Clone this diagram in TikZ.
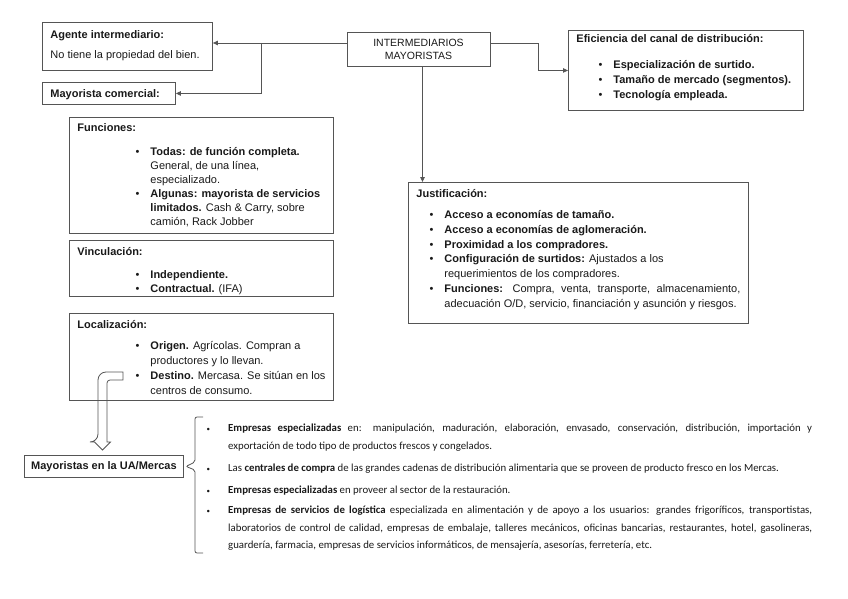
\documentclass[tikz,border=0pt]{standalone}
\usepackage{fontspec}
\setmainfont{Liberation Sans}
\newfontfamily\calibrifont{Carlito}
\usetikzlibrary{arrows.meta,positioning}
\definecolor{boxgray}{RGB}{85,85,85}
\definecolor{inkdark}{RGB}{25,25,25}

% box contents: width, height, top gap, title, body
\newcommand{\panelbox}[5]{\begin{minipage}[t][#2][t]{#1}\raggedright\vspace*{#3}\rule{0pt}{8pt}\smash{\textbf{#4}}#5\end{minipage}}
\newcommand{\bul}[2]{\par\leftskip=#1\relax\noindent\llap{\textbullet\hspace{11pt}}#2}
\newcommand{\listbul}{\leavevmode\llap{{\fontsize{7}{7}\selectfont\textbullet}\hspace{18pt}}}

\begin{document}
\begin{tikzpicture}[x=1pt, y=-1pt,
    panel/.style={draw=boxgray, line width=0.9pt, anchor=north west, inner xsep=8pt, inner ysep=0pt,
      text=inkdark, font=\fontsize{11}{14.5}\selectfont},
    arr/.style={-{Triangle[length=5pt, width=4.5pt]}, draw=boxgray, line width=0.8pt},
    bracket/.style={draw=boxgray, line width=0.8pt, rounded corners=2pt}
  ]
    \useasboundingbox (0,0) rectangle (848,599);

    % Top row
    \node[panel] (agente) at (42,22)
      {\panelbox{154pt}{48pt}{8pt}{Agente intermediario:}{\par\vspace{5.5pt}No tiene la propiedad del bien.}};
    \node[panel] (comercial) at (42,82)
      {\panelbox{117pt}{22pt}{7pt}{Mayorista comercial:}{}};
    \node[draw=boxgray, line width=0.9pt, minimum width=143pt, minimum height=34pt, align=center,
          text=inkdark, font=\fontsize{10.5}{13}\selectfont] (inter) at (418.5,49)
      {INTERMEDIARIOS\\MAYORISTAS};
    \node[panel] (efic) at (568,30)
      {\panelbox{219pt}{80pt}{4.5pt}{Eficiencia del canal de distribución:}{\setlength\baselineskip{15pt}\par\vspace{10.5pt}%
        \bul{37pt}{\textbf{Especialización de surtido.}}%
        \bul{37pt}{\textbf{Tamaño de mercado (segmentos).}}%
        \bul{37pt}{\textbf{Tecnología empleada.}}}};

    % Left column
    \node[panel] (func) at (69,117)
      {\panelbox{248pt}{116pt}{6pt}{Funciones:}{\setlength\baselineskip{14pt}\par\vspace{10pt}%
        \bul{73pt}{\textbf{Todas: de función completa.}\\General, de una línea,\\especializado.}%
        \bul{73pt}{\textbf{Algunas: mayorista de servicios}\\\textbf{limitados.} Cash \& Carry, sobre\\camión, Rack Jobber}}};
    \node[panel] (vinc) at (69,240)
      {\panelbox{248pt}{56pt}{7pt}{Vinculación:}{\setlength\baselineskip{14pt}\par\vspace{9pt}%
        \bul{73pt}{\textbf{Independiente.}}%
        \bul{73pt}{\textbf{Contractual.} (IFA)}}};
    \node[panel] (local) at (69,313)
      {\panelbox{248pt}{87pt}{7pt}{Localización:}{\setlength\baselineskip{15pt}\par\vspace{6pt}%
        \bul{73pt}{\textbf{Origen.} Agrícolas. Compran a\\productores y lo llevan.}%
        \bul{73pt}{\textbf{Destino.} Mercasa. Se sitúan en los\\centros de consumo.}}};

    % Right column
    \node[panel] (justif) at (408,182)
      {\panelbox{324pt}{141pt}{7pt}{Justificación:}{\setlength\baselineskip{14.8pt}\par\vspace{6.2pt}%
        \bul{28pt}{\textbf{Acceso a economías de tamaño.}}%
        \bul{28pt}{\textbf{Acceso a economías de aglomeración.}}%
        \bul{28pt}{\textbf{Proximidad a los compradores.}}%
        \bul{28pt}{\textbf{Configuración de surtidos:} Ajustados a los\\requerimientos de los compradores.}%
        \bul{28pt}{\makebox[296pt][s]{\textbf{Funciones:} Compra, venta, transporte, almacenamiento,}\\adecuación O/D, servicio, financiación y asunción y riesgos.}}};

    % Bottom
    \node[draw=boxgray, line width=0.9pt, anchor=north west, minimum width=159pt, minimum height=22pt,
          text=inkdark, font=\fontsize{11}{13}\selectfont\bfseries] (ua) at (24,455) {Mayoristas en la UA/Mercas};
    \node[anchor=base west, inner sep=0pt, text width=584pt, align=justify, text=inkdark,
          font=\calibrifont\fontsize{10.8}{17.5}\selectfont] (lista) at (228,431.5)
      {\listbul\textbf{Empresas especializadas} en: manipulación, maduración, elaboración, envasado, conservación, distribución, importación y\linebreak exportación de todo tipo de productos frescos y congelados.\par\vspace{4.5pt}
       \listbul Las \textbf{centrales de compra} de las grandes cadenas de distribución alimentaria que se proveen de producto fresco en los Mercas.\par\vspace{4.5pt}
       \listbul\textbf{Empresas especializadas} en proveer al sector de la restauración.\par\vspace{3pt}
       \listbul\textbf{Empresas de servicios de logística} especializada en alimentación y de apoyo a los usuarios: grandes frigoríficos, transportistas,\linebreak laboratorios de control de calidad, empresas de embalaje, talleres mecánicos, oficinas bancarias, restaurantes, hotel, gasolineras,\linebreak guardería, farmacia, empresas de servicios informáticos, de mensajería, asesorías, ferretería, etc.};

    % Connectors
    \coordinate (lvl) at (0,43);
    \coordinate (split) at (261,43);
    \coordinate (ebend) at (538,43);
    \draw[arr] (inter.west |- lvl) -- (agente.east |- lvl);
    \draw[arr] (split) |- (comercial.east);
    \draw[arr] (inter.east |- lvl) -- (ebend) |- (efic.west);
    \draw[arr] ([xshift=4pt]inter.south) -- ([xshift=4pt]inter.south |- justif.north);

    % Hollow bent arrow
    \draw[boxgray, line width=0.8pt] (123,372) [rounded corners=8pt] -- (98,372) -- (98,442) [sharp corners]
      -- (94.5,442) -- (102.5,450) -- (110.5,442) -- (107,442) [rounded corners=3pt] -- (107,380) [sharp corners] -- (123,380) -- cycle;

    % Brace
    \draw[bracket] (203,417) -- (195,417) -- (195,462) -- ([xshift=2pt]ua.east) -- (195,470) -- (195,553) -- (203,553);
\end{tikzpicture}
\end{document}
